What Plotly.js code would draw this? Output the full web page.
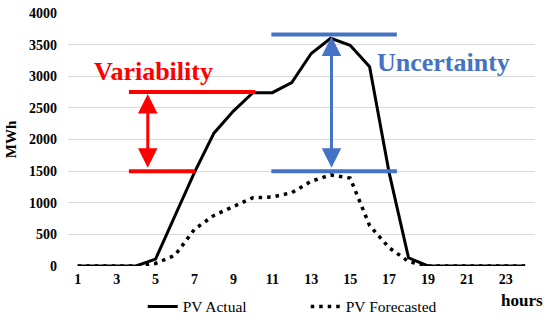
<!DOCTYPE html>
<html>
<head>
<meta charset="utf-8">
<script src="https://cdn.plot.ly/plotly-3.0.1.min.js"></script>
<style>html,body{margin:0;padding:0;background:#fff;}#chart{width:550px;height:323px;}</style>
</head>
<body>
<div id="chart"></div>
<script>
const hours = [1,2,3,4,5,6,7,8,9,10,11,12,13,14,15,16,17,18,19,20,21,22,23,24];
const pvActual = [0,0,0,0,110,800,1480,2100,2450,2740,2740,2900,3360,3600,3490,3150,1480,130,0,0,0,0,0,0];
const pvForecasted = [0,0,0,0,40,170,580,800,940,1080,1090,1160,1340,1440,1390,640,290,70,0,0,0,0,0,0];
const tickHours = [1,3,5,7,9,11,13,15,17,19,21,23];
const yTicks = [0,500,1000,1500,2000,2500,3000,3500,4000];

// annotation guide values (in data units)
const variabilityTop = 2750, variabilityBottom = 1500;
const uncertaintyTop = 3660, uncertaintyBottom = 1500;

const serif = "Liberation Serif";
const red = '#ff0000', blue = '#4472c4';

const traces = [
  {x: hours, y: pvActual, type: 'scatter', mode: 'lines', name: 'PV Actual',
   line: {color: '#000', width: 3}},
  {x: hours, y: pvForecasted, type: 'scatter', mode: 'lines', name: 'PV Forecasted',
   line: {color: '#000', width: 3.5, dash: '3.5px,5px'}}
];

const layout = {
  width: 550, height: 323,
  margin: {l: 68, r: 15, t: 13, b: 57},
  paper_bgcolor: '#fff', plot_bgcolor: '#fff',
  font: {family: serif, color: '#000', size: 14},
  showlegend: true,
  legend: {orientation: 'h', xref: 'paper', x: 0.16, xanchor: 'left',
           yref: 'container', y: 0.05, yanchor: 'middle',
           entrywidth: 118, entrywidthmode: 'pixels',
           font: {family: serif, size: 15.5, color: '#000'}, traceorder: 'normal'},
  xaxis: {range: [0.5, 24.5], tickvals: tickHours, ticktext: tickHours.map(String),
          showgrid: false, zeroline: false, showline: false, ticks: '', ticklabelstandoff: 3,
          tickfont: {family: serif, size: 14, color: '#000', weight: 'bold'}},
  yaxis: {range: [0, 4000], tickvals: yTicks, showgrid: true, gridcolor: '#d9d9d9', gridwidth: 1,
          zeroline: false, showline: false, ticks: '', ticklabelstandoff: 10,
          tickfont: {family: serif, size: 14, color: '#000', weight: 'bold'},
          title: {text: 'MWh', font: {family: serif, size: 15, color: '#000', weight: 'bold'}, standoff: 8}},
  shapes: [
    {type: 'line', xref: 'x', yref: 'y', x0: 3.63, x1: 10.12, y0: variabilityTop, y1: variabilityTop,
     line: {color: red, width: 4}},
    {type: 'line', xref: 'x', yref: 'y', x0: 3.63, x1: 7.03, y0: variabilityBottom, y1: variabilityBottom,
     line: {color: red, width: 4}},
    {type: 'line', xref: 'x', yref: 'y', x0: 10.95, x1: 17.4, y0: uncertaintyTop, y1: uncertaintyTop,
     line: {color: blue, width: 4}},
    {type: 'line', xref: 'x', yref: 'y', x0: 10.95, x1: 17.4, y0: uncertaintyBottom, y1: uncertaintyBottom,
     line: {color: blue, width: 4}}
  ],
  annotations: [
    {x: 4.6, y: variabilityTop, ax: 4.6, ay: variabilityBottom, xref: 'x', yref: 'y', axref: 'x', ayref: 'y',
     text: '', showarrow: true, arrowhead: 2, startarrowhead: 2, arrowside: 'end+start',
     arrowsize: 1.3, startarrowsize: 1.3, arrowwidth: 3, arrowcolor: red, standoff: 2, startstandoff: 2},
    {x: 14.04, y: uncertaintyTop, ax: 14.04, ay: uncertaintyBottom, xref: 'x', yref: 'y', axref: 'x', ayref: 'y',
     text: '', showarrow: true, arrowhead: 2, startarrowhead: 2, arrowside: 'end+start',
     arrowsize: 1.3, startarrowsize: 1.3, arrowwidth: 3, arrowcolor: blue, standoff: 2, startstandoff: 2},
    {x: 4.9, y: 3080, xref: 'x', yref: 'y', text: 'Variability', showarrow: false,
     font: {family: serif, size: 26, color: red, weight: 'bold'}},
    {x: 19.8, y: 3220, xref: 'x', yref: 'y', text: 'Uncertainty', showarrow: false,
     font: {family: serif, size: 26, color: blue, weight: 'bold'}},
    {x: 1, y: 0, xref: 'paper', yref: 'paper', xanchor: 'right', yanchor: 'middle', xshift: 10, yshift: -34,
     text: 'hours', showarrow: false, font: {family: serif, size: 17, color: '#000', weight: 'bold'}}
  ]
};

Plotly.newPlot('chart', traces, layout, {displayModeBar: false, staticPlot: true});
</script>
</body>
</html>
